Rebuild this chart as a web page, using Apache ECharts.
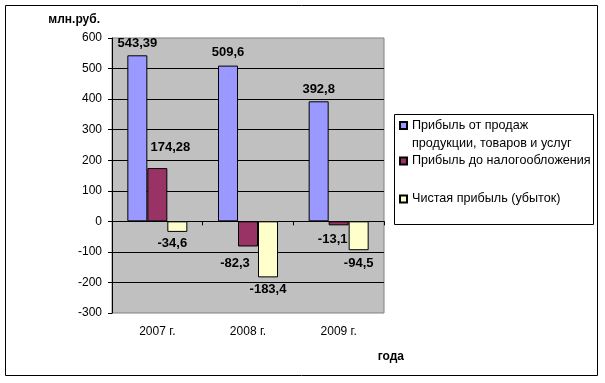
<!DOCTYPE html>
<html><head><meta charset="utf-8">
<script src="https://cdn.jsdelivr.net/npm/echarts@6/dist/echarts.min.js"></script>
<style>html,body{margin:0;padding:0;background:#fff}#c{width:605px;height:383px}</style>
</head><body><div id="c"></div>
<script>
const categories = ['2007 г.', '2008 г.', '2009 г.'];
const seriesNames = ['Прибыль от продаж продукции, товаров и услуг', 'Прибыль до налогообложения', 'Чистая прибыль (убыток)'];
const salesProfit = [543.39, 509.6, 392.8];
const preTaxProfit = [174.28, -82.3, -13.1];
const netProfit = [-34.6, -183.4, -94.5];
const yMin = -300, yMax = 600, yInterval = 100;
const yAxisTitle = 'млн.руб.';
const xAxisTitle = 'года';

// label nudges (style only)
const labelOffsets = [
  [[0, 0], [0, -2], [0, 0]],
  [[13, -9], [-13, 5], [-6, 2.5]],
  [[-5, 0], [0, 0.5], [0, 1.5]]
];
const colors = ['#9999FF', '#993366', '#FFFFCC'];
const FF = "'Liberation Sans', Arial, sans-serif";

function mkSeries(idx, values) {
  return {
    name: seriesNames[idx], type: 'bar', xAxisIndex: 0, barWidth: 20, barGap: '0%',
    itemStyle: { color: colors[idx], borderColor: '#000', borderWidth: 1 },
    label: { show: true, distance: 5, color: '#000', fontSize: 13, fontWeight: 'bold', fontFamily: FF,
      formatter: p => String(p.value).replace('.', ',') },
    data: values.map((v, i) => ({ value: v, label: { position: v >= 0 ? 'top' : 'bottom', offset: labelOffsets[idx][i] } }))
  };
}
const legendBase = {
  orient: 'vertical', padding: 0, itemWidth: 7, itemHeight: 7, icon: 'rect', selectedMode: false, left: 399,
  textStyle: { fontSize: 12.6, color: '#000', fontFamily: FF, lineHeight: 18 }
};
const chart = echarts.init(document.getElementById('c'), null, { renderer: 'canvas' });
chart.setOption({
  animation: false,
  textStyle: { fontFamily: FF },
  grid: { left: 112, right: 221, top: 38, bottom: 70, show: true, backgroundColor: '#C0C0C0', borderColor: '#808080', borderWidth: 1 },
  legend: [
    Object.assign({}, legendBase, { data: [seriesNames[0]], top: 98.5,
      formatter: () => '\nПрибыль от продаж\nпродукции, товаров и услуг' }),
    Object.assign({}, legendBase, { data: [seriesNames[1]], top: 152 }),
    Object.assign({}, legendBase, { data: [seriesNames[2]], top: 190 })
  ],
  xAxis: [
    { type: 'category', data: categories, position: 'bottom', axisLine: { show: false, onZero: false }, axisTick: { show: false },
      axisLabel: { margin: 13, color: '#000', fontSize: 12, fontFamily: FF } },
    { type: 'category', data: categories, position: 'bottom', axisLine: { show: true, onZero: true, lineStyle: { color: '#000', width: 1 } },
      axisTick: { show: true, length: 4, lineStyle: { color: '#000' } }, axisLabel: { show: false } }
  ],
  yAxis: { type: 'value', min: yMin, max: yMax, interval: yInterval,
    axisLine: { show: true, lineStyle: { color: '#000' } },
    axisTick: { show: true, length: 4, lineStyle: { color: '#000' } },
    axisLabel: { margin: 10, color: '#000', fontSize: 12, fontFamily: FF },
    splitLine: { show: true, showMinLine: false, showMaxLine: false, lineStyle: { color: '#000', width: 1 } } },
  graphic: [
    { type: 'rect', shape: { x: 5.5, y: 5.5, width: 592, height: 370 }, style: { fill: null, stroke: '#000', lineWidth: 1 }, z: -1 },
    { type: 'rect', shape: { x: 394.5, y: 114.5, width: 199, height: 110 }, style: { fill: null, stroke: '#000', lineWidth: 1 } },
    { type: 'text', x: 100, y: 20, style: { text: yAxisTitle, font: "bold 12px 'Liberation Sans', Arial, sans-serif", fill: '#000', align: 'right', verticalAlign: 'middle' } },
    { type: 'text', x: 404, y: 357, style: { text: xAxisTitle, font: "bold 12px 'Liberation Sans', Arial, sans-serif", fill: '#000', align: 'right', verticalAlign: 'middle' } }
  ],
  series: [mkSeries(0, salesProfit), mkSeries(1, preTaxProfit), mkSeries(2, netProfit)]
});
</script></body></html>
